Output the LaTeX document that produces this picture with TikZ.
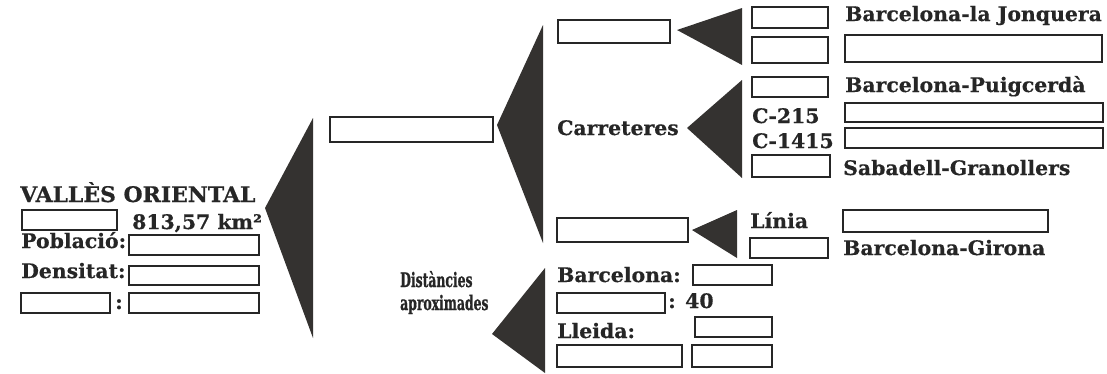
\documentclass[tikz,border=0pt]{standalone}
\usepackage{fontspec}
\setmainfont{DejaVu Serif}[BoldFeatures={FakeStretch=1.02,FakeBold=0.5}]
\newfontfamily\etroit{DejaVu Serif Bold}[FakeStretch=0.62,FakeBold=0.8]
\definecolor{encre}{RGB}{38,38,38}
\definecolor{ombre}{RGB}{52,50,48}
\begin{document}
\begin{tikzpicture}[x=1pt,y=-1pt,
		case/.style={draw=encre, line width=2.6pt, anchor=north west, inner sep=0pt, outer sep=0pt},
		texte/.style={anchor=base west, inner sep=0pt, text=encre, font=\bfseries\fontsize{20}{22}\selectfont},
		pointe/.style={fill=ombre, draw=none}]
			\useasboundingbox[fill=white] (0,0) rectangle (1107,373);
			% la fiche de la comarque
			\node[texte, font=\bfseries\fontsize{21.5}{24}\selectfont] (titre) at (20,202) {VALLÈS ORIENTAL};
			\node[case, minimum width=95, minimum height=20] (sup) at (22,210) {};
			\node[texte] (km) at (132,229) {813,57 km²};
			\node[texte] (pob) at (21,248) {Població:};
			\node[case, minimum width=130, minimum height=20] (pobcase) at (129,235) {};
			\node[texte] (dens) at (21,278) {Densitat:};
			\node[case, minimum width=130, minimum height=19] (denscase) at (129,266) {};
			\node[case, minimum width=89, minimum height=20] (autre) at (21,293) {};
			\node[texte, anchor=base] (dp) at (119,309) {:};
			\node[case, minimum width=130, minimum height=20] (autrecase) at (129,293) {};
			% les grandes pointes
			\fill[pointe] (265,208) -- (313,118) -- (313,338) -- cycle;
			\fill[pointe] (497,125) -- (543,25) -- (543,243) -- cycle;
			\fill[pointe] (492,334) -- (545,268) -- (545,373) -- cycle;
			% les communications
			\node[case, minimum width=163, minimum height=25] (com) at (330,117) {};
			\node[case, minimum width=112, minimum height=23] (auto) at (558,20) {};
			\node[texte] (carr) at (557,135) {Carreteres};
			\node[case, minimum width=131, minimum height=24] (tren) at (557,218) {};
			% les petites pointes
			\fill[pointe] (677,30) -- (742,8) -- (742,65) -- cycle;
			\fill[pointe] (687,128) -- (742,80) -- (742,178) -- cycle;
			\fill[pointe] (692,230) -- (737,210) -- (737,258) -- cycle;
			% autopistes
			\node[case, minimum width=76, minimum height=21] (a1) at (752,7) {};
			\node[texte] (jonq) at (845,21) {Barcelona-la Jonquera};
			\node[case, minimum width=76, minimum height=26] (a2) at (752,37) {};
			\node[case, minimum width=257, minimum height=27] (a2nom) at (845,35) {};
			% carreteres
			\node[case, minimum width=76, minimum height=20] (c1) at (752,77) {};
			\node[texte] (puig) at (845,92) {Barcelona-Puigcerdà};
			\node[texte] (c215) at (752,123) {C-215};
			\node[case, minimum width=258, minimum height=19] (c215nom) at (845,103) {};
			\node[texte] (c1415) at (752,148) {C-1415};
			\node[case, minimum width=258, minimum height=20] (c1415nom) at (845,128) {};
			\node[case, minimum width=78, minimum height=22] (c4) at (752,155) {};
			\node[texte] (sabg) at (843,175) {Sabadell-Granollers};
			% ferrocarril
			\node[texte] (linia) at (750,228) {Línia};
			\node[case, minimum width=205, minimum height=22] (linianom) at (843,210) {};
			\node[case, minimum width=78, minimum height=20] (l2) at (750,238) {};
			\node[texte] (gir) at (843,255) {Barcelona-Girona};
			% les distances
			\node[texte, align=left, font=\etroit\fontsize{20}{23}\selectfont] (dist) at (400,310) {Distàncies\\aproximades};
			\node[texte] (bcn) at (557,282) {Barcelona:};
			\node[case, minimum width=79, minimum height=20] (bcncase) at (693,265) {};
			\node[case, minimum width=108, minimum height=20] (d2) at (557,293) {};
			\node[texte] (quar) at (668,308) {: 40};
			\node[texte] (lle) at (557,338) {Lleida:};
			\node[case, minimum width=77, minimum height=20] (llecase) at (695,317) {};
			\node[case, minimum width=125, minimum height=22] (d4a) at (557,345) {};
			\node[case, minimum width=80, minimum height=22] (d4b) at (692,345) {};
		\end{tikzpicture}
\end{document}
